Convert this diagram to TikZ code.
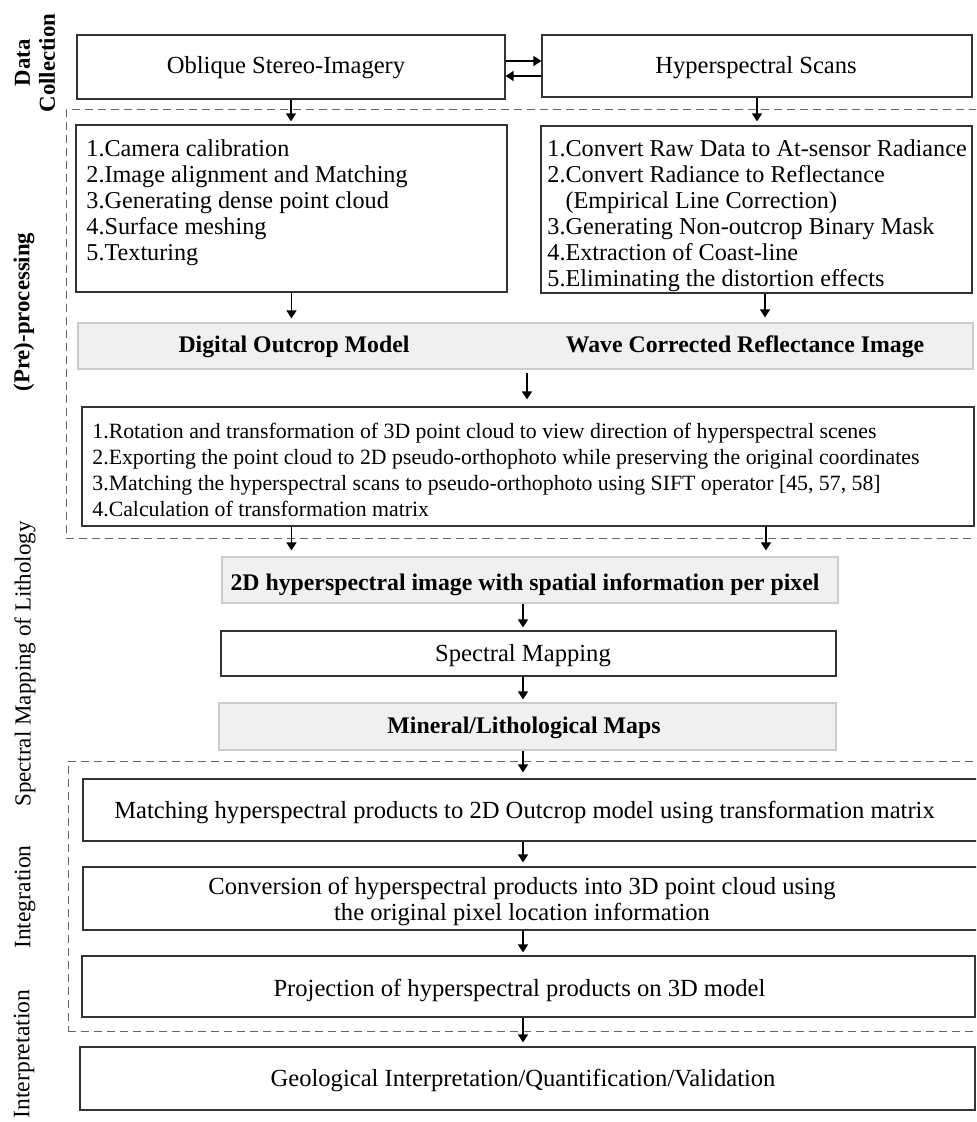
\documentclass[tikz,border=0pt]{standalone}
\usepackage{fontspec}
\setmainfont{Liberation Serif}
\usetikzlibrary{arrows.meta,calc}
\begin{document}
\begin{tikzpicture}[x=0.5pt,y=-0.5pt,
  every node/.style={font=\fontsize{12.3}{13}\selectfont, inner sep=0pt},
  box/.style={draw=black!80, line width=0.6pt},
  gbox/.style={draw=black!20, line width=0.6pt, fill=black!6},
  dbox/.style={draw=black!60, line width=0.5pt, dash pattern=on 4pt off 2.5pt},
  arr/.style={line width=0.7pt, -{Triangle[length=4pt,width=5pt]}},
  side/.style={rotate=90, align=center, font=\fontsize{11.5}{13}\selectfont},
  lst/.style={anchor=north west, align=left, font=\fontsize{12.1}{13}\selectfont},
  bld/.style={anchor=base, font=\fontsize{11.9}{13}\selectfont\bfseries},
]
\useasboundingbox (0,0) rectangle (976,1122);
\clip (0,0) rectangle (976,1122);
\fill[white] (0,0) rectangle (976,1122);

% dashed group frames
\node[dbox, minimum width=462pt, minimum height=214pt] (pre) at (528,324) {};
\node[dbox, minimum width=461pt, minimum height=135pt] (integ) at (529,896) {};

% boxes
\node[box, minimum width=214pt, minimum height=32pt] (A) at (291,67) {};
\node[box, minimum width=215pt, minimum height=31pt] (B) at (757,66) {};
\node[box, minimum width=215.5pt, minimum height=83.5pt] (C) at (291.5,208.5) {};
\node[box, minimum width=215.5pt, minimum height=83.5pt] (D) at (756.5,209.5) {};
\node[gbox, minimum width=447.5pt, minimum height=23pt] (P) at (525.5,346) {};
\node[box, minimum width=446pt, minimum height=59.5pt] (E) at (528,466.5) {};
\node[gbox, minimum width=308pt, minimum height=23pt] (F) at (530,580) {};
\node[box, minimum width=307.5pt, minimum height=22.5pt] (G) at (528.5,653.5) {};
\node[gbox, minimum width=308.5pt, minimum height=23.5pt] (H) at (527.5,726.5) {};
\node[box, minimum width=451pt, minimum height=31pt] (I) at (534,810) {};
\node[box, minimum width=451pt, minimum height=31.5pt] (J) at (534,898.5) {};
\node[box, minimum width=446.5pt, minimum height=30.5pt] (K) at (528.5,986.5) {};
\node[box, minimum width=447.5pt, minimum height=31.5pt] (L) at (527.5,1078.5) {};

% texts
\node[anchor=base] (At) at (286,74) {Oblique Stereo-Imagery};
\node[anchor=base] (Bt) at (756,74) {Hyperspectral Scans};
\node[lst] (Ct) at (86,139) {1.Camera calibration\\2.Image alignment and Matching\\3.Generating dense point cloud\\4.Surface meshing\\5.Texturing};
\node[lst] (Dt) at (547,139) {1.Convert Raw Data to At-sensor Radiance\\2.Convert Radiance to Reflectance\\\phantom{2.}(Empirical Line Correction)\\3.Generating Non-outcrop Binary Mask\\4.Extraction of Coast-line\\5.Eliminating the distortion effects};
\node[bld] (DOM) at (294,353) {Digital Outcrop Model};
\node[bld] (WCR) at (745,353) {Wave Corrected Reflectance Image};
\node[lst, font=\fontsize{10.9}{13}\selectfont] (Et) at (92,423) {1.Rotation and transformation of 3D point cloud to view direction of hyperspectral scenes\\2.Exporting the point cloud to 2D pseudo-orthophoto while preserving the original coordinates\\3.Matching the hyperspectral scans to pseudo-orthophoto using SIFT operator [45, 57, 58]\\4.Calculation of transformation matrix};
\node[bld] (Ft) at (525,590) {2D hyperspectral image with spatial information per pixel};
\node[anchor=base] (Gt) at (523,661) {Spectral Mapping};
\node[bld] (Ht) at (524,733) {Mineral/Lithological Maps};
\node[anchor=base] (It) at (524.5,818) {Matching hyperspectral products to 2D Outcrop model using transformation matrix};
\node[anchor=north, align=center] (Jt) at (522,877) {Conversion of hyperspectral products into 3D point cloud using\\the original pixel location information};
\node[anchor=base] (Kt) at (519.5,996) {Projection of hyperspectral products on 3D model};
\node[anchor=base] (Lt) at (523,1086) {Geological Interpretation/Quantification/Validation};

% side labels
\node[side, font=\fontsize{11.4}{12.5}\selectfont\bfseries] (s1) at (35,63) {Data\\Collection};
\node[side, font=\fontsize{11.4}{13}\selectfont\bfseries] (s2) at (24,312) {(Pre)-processing};
\node[side, font=\fontsize{11.5}{13}\selectfont] (s3) at (25,664) {Spectral Mapping of Lithology};
\node[side, font=\fontsize{11.8}{13}\selectfont] (s4) at (25,897) {Integration};
\node[side, font=\fontsize{11.8}{13}\selectfont] (s5) at (24,1054) {Interpretation};

% connectors
\coordinate (mx) at (523,0);
\draw[arr] ($(A.east)+(0,-6)$) -- ($(B.west |- A.east)+(0,-6)$);
\draw[arr] ($(B.west |- A.east)+(0,9)$) -- ($(A.east)+(0,9)$);
\draw[arr, shorten >=1.5pt] (A.south) -- (A.south |- C.north);
\draw[arr, shorten >=2pt] (B.south) -- (B.south |- D.north);
\draw[arr, shorten >=2pt] (C.south) -- (C.south |- P.north);
\draw[arr, shorten >=2.5pt] ($(D.south)+(8.5,0)$) -- ($(D.south |- P.north)+(8.5,0)$);
\draw[arr, shorten <=1.5pt, shorten >=3.5pt] ($(P.south)+(1.5,0)$) -- ($(P.south |- E.north)+(1.5,0)$);
\draw[arr, shorten >=3pt] (E.south -| C.south) -- (F.north -| C.south);
\draw[arr, shorten >=3pt] ($(E.south -| D.south)+(9.5,0)$) -- ($(F.north -| D.south)+(9.5,0)$);
\draw[arr, shorten >=1.5pt] (F.south -| mx) -- (G.north -| mx);
\draw[arr, shorten >=1.5pt] (G.south -| mx) -- (H.north -| mx);
\draw[arr, shorten >=3pt] (H.south -| mx) -- (I.north -| mx);
\draw[arr, shorten >=2pt] (I.south -| mx) -- (J.north -| mx);
\draw[arr, shorten >=1.5pt] (J.south -| mx) -- (K.north -| mx);
\draw[arr, shorten >=2pt] (K.south -| mx) -- (L.north -| mx);
\end{tikzpicture}
\end{document}
